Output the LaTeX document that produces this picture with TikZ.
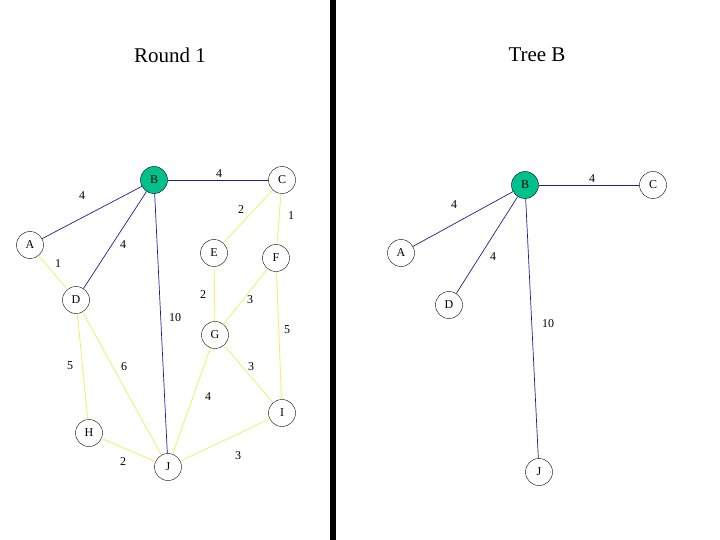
\documentclass[tikz,border=0pt]{standalone}
\usepackage{fontspec}
\setmainfont{Liberation Serif}
\definecolor{grn}{RGB}{0,192,140}
\definecolor{yel}{RGB}{240,240,120}
\definecolor{blu}{RGB}{30,30,140}
\tikzset{x=1pt,y=-1pt,
 vert/.style={circle,draw,fill=white,minimum size=27pt,inner sep=0pt,font=\fontsize{12}{12}\selectfont},
 root/.style={vert,fill=grn},
 te/.style={draw=blu,line width=0.7pt},
 ye/.style={draw=yel,line width=0.9pt},
 lab/.style={font=\fontsize{12}{12}\selectfont},
 ttl/.style={font=\fontsize{21}{21}\selectfont}}
\begin{document}
\begin{tikzpicture}
\useasboundingbox (0,0) rectangle (720,540);
\node[ttl] (t1) at (170,55) {Round 1};
\node[ttl] (t2) at (537,55) {Tree B};
\coordinate (s1) at (333,0); \coordinate (s2) at (333,540);
\draw[line width=6pt] (s1) -- (s2);
% left graph
\node[root] (B) at (154,180) {B};
\node[vert] (C) at (282,180) {C};
\node[vert] (A) at (30,245) {A};
\node[vert] (E) at (214,253) {E};
\node[vert] (F) at (276,258) {F};
\node[vert] (D) at (76,300) {D};
\node[vert] (G) at (215,335) {G};
\node[vert] (I) at (282,413) {I};
\node[vert] (H) at (89,433) {H};
\node[vert] (J) at (168,467) {J};
\draw[te] (B) -- (C); \draw[te] (A) -- (B); \draw[te] (B) -- (D); \draw[te] (B) -- (J);
\draw[ye] (A) -- (D); \draw[ye] (C) -- (E); \draw[ye] (C) -- (F); \draw[ye] (E) -- (G);
\draw[ye] (F) -- (G); \draw[ye] (F) -- (I); \draw[ye] (D) -- (H); \draw[ye] (D) -- (J);
\draw[ye] (G) -- (I); \draw[ye] (G) -- (J); \draw[ye] (H) -- (J); \draw[ye] (J) -- (I);
\node[lab] (l1) at (219,174) {4};
\node[lab] (l2) at (82,196) {4};
\node[lab] (l3) at (123,245) {4};
\node[lab] (l4) at (175,318) {10};
\node[lab] (l5) at (58,264) {1};
\node[lab] (l6) at (241,210) {2};
\node[lab] (l7) at (291,216) {1};
\node[lab] (l8) at (203,295) {2};
\node[lab] (l9) at (250,300) {3};
\node[lab] (l10) at (287,330) {5};
\node[lab] (l11) at (70,366) {5};
\node[lab] (l12) at (124,367) {6};
\node[lab] (l13) at (251,367) {3};
\node[lab] (l14) at (208,397) {4};
\node[lab] (l15) at (123,462) {2};
\node[lab] (l16) at (238,456) {3};
% right tree
\node[root] (RB) at (525,185) {B};
\node[vert] (RC) at (653,185) {C};
\node[vert] (RA) at (401,253) {A};
\node[vert] (RD) at (449,305) {D};
\node[vert] (RJ) at (539,472) {J};
\draw[te] (RB) -- (RC); \draw[te] (RB) -- (RA); \draw[te] (RB) -- (RD); \draw[te] (RB) -- (RJ);
\node[lab] (r1) at (592,179) {4};
\node[lab] (r2) at (454,205) {4};
\node[lab] (r3) at (493,257) {4};
\node[lab] (r4) at (548,324) {10};
\end{tikzpicture}
\end{document}
